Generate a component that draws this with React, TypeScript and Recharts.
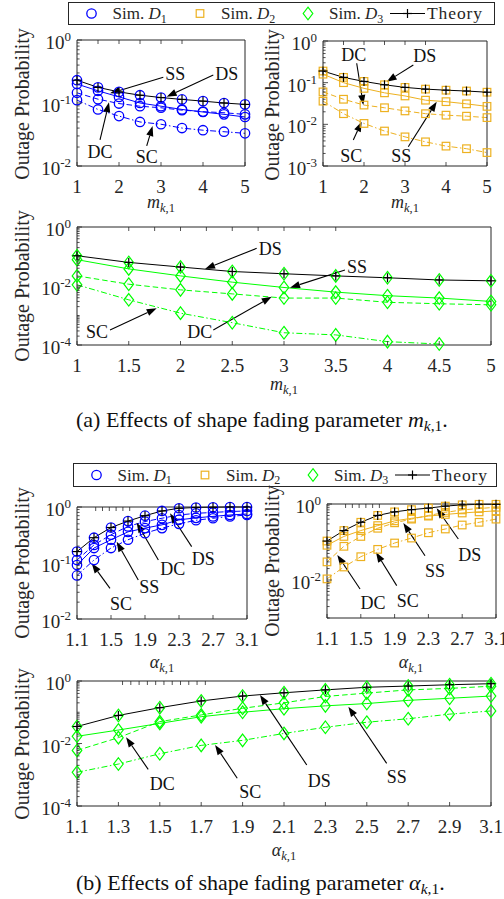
import React from "react";
import { LineChart, Line, XAxis, YAxis, ReferenceLine } from "recharts";

const SERIF = '"Liberation Serif", "Times New Roman", serif';
const INK = "#262626";
const BLUE = "#0000ff";
const ORANGE = "#edb120";
const GREEN = "#00ff00";

// ---------------------------------------------------------------------------
// Data
// ---------------------------------------------------------------------------

const mValues = [1, 1.5, 2, 2.5, 3, 3.5, 4, 4.5, 5];
const alphaValues = [1.1, 1.3, 1.5, 1.7, 1.9, 2.1, 2.3, 2.5, 2.7, 2.9, 3.1];

const mTicksNarrow = [1, 2, 3, 4, 5];
const mTicksWide = [1, 1.5, 2, 2.5, 3, 3.5, 4, 4.5, 5];
const alphaTicksNarrow = [1.1, 1.5, 1.9, 2.3, 2.7, 3.1];
const alphaTicksWide = [1.1, 1.3, 1.5, 1.7, 1.9, 2.1, 2.3, 2.5, 2.7, 2.9, 3.1];

// (a) D1 vs m
const mD1DS = [0.23, 0.177, 0.15, 0.133, 0.122, 0.114, 0.107, 0.1, 0.095];
const mD1SS = [0.2, 0.156, 0.125, 0.1, 0.089, 0.079, 0.072, 0.066, 0.06];
const mD1DC = [0.145, 0.115, 0.098, 0.089, 0.084, 0.077, 0.073, 0.07, 0.066];
const mD1SC = [0.111, 0.079, 0.062, 0.05, 0.046, 0.04, 0.037, 0.035, 0.033];

// (a) D2 vs m
const mD2DS = [0.19, 0.134, 0.107, 0.089, 0.077, 0.07, 0.066, 0.063, 0.059];
const mD2SS = [0.16, 0.1, 0.073, 0.057, 0.048, 0.038, 0.035, 0.031, 0.027];
const mD2DC = [0.06, 0.04, 0.029, 0.025, 0.021, 0.018, 0.0166, 0.0157, 0.0145];
const mD2SC = [0.036, 0.018, 0.0105, 0.0069, 0.005, 0.0038, 0.003, 0.0026, 0.0021];

// (a) D3 vs m
const mD3DS = [0.106, 0.063, 0.044, 0.031, 0.026, 0.022, 0.019, 0.016, 0.015];
const mD3SS = [0.078, 0.038, 0.022, 0.0135, 0.0089, 0.0062, 0.0047, 0.0039, 0.003];
const mD3DC = [0.022, 0.0115, 0.0074, 0.0054, 0.0039, 0.0039, 0.0028, 0.0025, 0.0023];
const mD3SC = [0.011, 0.0034, 0.0012, 0.00057, 0.00026, 0.00022, 0.00013, 0.000108, null];

// (b) D1 vs alpha
const aD1DS = [0.16, 0.283, 0.43, 0.56, 0.7, 0.85, 0.95, 0.98, 0.99, 1.0, 1.0];
const aD1SS = [0.092, 0.185, 0.26, 0.36, 0.42, 0.48, 0.59, 0.64, 0.68, 0.72, 0.75];
const aD1DC = [0.113, 0.21, 0.32, 0.45, 0.55, 0.63, 0.72, 0.77, 0.8, 0.83, 0.85];
const aD1SC = [0.06, 0.113, 0.185, 0.26, 0.34, 0.42, 0.5, 0.58, 0.63, 0.68, 0.72];

// (b) D2 vs alpha
const aD2DS = [0.106, 0.2, 0.33, 0.5, 0.62, 0.71, 0.78, 0.88, 0.95, 0.98, 0.98];
const aD2SS = [0.082, 0.14, 0.2, 0.27, 0.36, 0.42, 0.48, 0.53, 0.58, 0.62, 0.66];
const aD2DC = [0.03, 0.077, 0.14, 0.23, 0.32, 0.4, 0.5, 0.6, 0.7, 0.76, 0.82];
const aD2SC = [0.0107, 0.022, 0.041, 0.064, 0.094, 0.127, 0.175, 0.22, 0.28, 0.33, 0.4];

// (b) D3 vs alpha
const aD3DS = [0.035, 0.079, 0.14, 0.23, 0.33, 0.42, 0.52, 0.63, 0.69, 0.76, 0.82];
const aD3SS = [0.017, 0.027, 0.044, 0.072, 0.1, 0.13, 0.16, 0.19, 0.24, 0.28, 0.33];
const aD3DC = [0.006, 0.0154, 0.05, 0.082, 0.134, 0.2, 0.32, 0.41, 0.52, 0.58, 0.68];
const aD3SC = [0.0012, 0.0022, 0.0047, 0.0087, 0.0126, 0.021, 0.033, 0.048, 0.062, 0.087, 0.11];

// ---------------------------------------------------------------------------
// Types / helpers
// ---------------------------------------------------------------------------

type Val = number | null;
type Row = { x: number; ds: Val; ss: Val; dc: Val; sc: Val };
type MarkerKind = "circle" | "square" | "diamond";

interface Note {
  label: string;
  tail: [number, number];
  head: [number, number];
  anchor: "start" | "middle" | "end";
  dx: number;
  dy: number;
}

const toRows = (xs: number[], ds: Val[], ss: Val[], dc: Val[], sc: Val[]): Row[] =>
  xs.map((x, i) => ({ x, ds: ds[i], ss: ss[i], dc: dc[i], sc: sc[i] }));

function logTicks(lo: number, hi: number) {
  const out: number[] = [];
  for (let e = lo; e < hi; e++) for (let k = 1; k < 10; k++) out.push(k * Math.pow(10, e));
  out.push(Math.pow(10, hi));
  return out;
}

function drawMarker(kind: MarkerKind, color: string, cx: number, cy: number) {
  if (kind === "circle")
    return <circle cx={cx} cy={cy} r={4.7} fill="none" stroke={color} strokeWidth={1.3} />;
  if (kind === "square")
    return <rect x={cx - 3.8} y={cy - 3.8} width={7.6} height={7.6} fill="none" stroke={color} strokeWidth={1.2} />;
  return (
    <polygon
      points={`${cx},${cy - 6.3} ${cx + 4.8},${cy} ${cx},${cy + 6.3} ${cx - 4.8},${cy}`}
      fill="none"
      stroke={color}
      strokeWidth={1.2}
    />
  );
}

const plusMark = (cx: number, cy: number) => (
  <g stroke="#000" strokeWidth={1.2}>
    <line x1={cx - 4.5} x2={cx + 4.5} y1={cy} y2={cy} />
    <line x1={cx} x2={cx} y1={cy - 4.5} y2={cy + 4.5} />
  </g>
);

const markerDot = (kind: MarkerKind, color: string, withPlus: boolean) => (p: any) => {
  const { cx, cy, index } = p;
  if (cx == null || cy == null || p.value == null) return <g key={`n${index}`} />;
  return (
    <g key={`m${index}`}>
      {drawMarker(kind, color, cx, cy)}
      {withPlus && plusMark(cx, cy)}
    </g>
  );
};

const isPow10 = (v: number) => Math.abs(Math.log10(v) - Math.round(Math.log10(v))) < 1e-9;

const yTick = (side: "left" | "right", labelExps: number[]) => (p: any) => {
  const v = p.payload.value as number;
  const exp = Math.round(Math.log10(v));
  const major = isPow10(v) && labelExps.includes(exp);
  const len = major ? 5 : 2.6;
  const dir = side === "left" ? 1 : -1;
  return (
    <g>
      <line x1={p.x} x2={p.x + dir * len} y1={p.y} y2={p.y} stroke={INK} strokeWidth={0.8} />
      {major && side === "left" && (
        <text x={p.x - 6} y={p.y + 9} textAnchor="end" fontFamily={SERIF} fontSize={19} fill={INK}>
          10
          <tspan dy={-8} fontSize={13}>
            {String(exp)}
          </tspan>
        </text>
      )}
    </g>
  );
};

const xTick = (side: "top" | "bottom") => (p: any) => {
  const dir = side === "bottom" ? -1 : 1;
  return (
    <g>
      <line x1={p.x} x2={p.x} y1={p.y} y2={p.y + dir * 4} stroke={INK} strokeWidth={0.8} />
      {side === "bottom" && (
        <text x={p.x} y={p.y + 27} textAnchor="middle" fontFamily={SERIF} fontSize={19} fill={INK}>
          {p.payload.value}
        </text>
      )}
    </g>
  );
};

const arrowShape = (n: Note) => (p: any) => {
  const { x1, y1, x2, y2 } = p;
  if (x1 == null || x2 == null) return <g />;
  const a = Math.atan2(y2 - y1, x2 - x1);
  const L = 10;
  const W = 3.6;
  const bx = x2 - L * Math.cos(a);
  const by = y2 - L * Math.sin(a);
  return (
    <g>
      <line x1={x1} y1={y1} x2={bx} y2={by} stroke="#000" strokeWidth={1.1} />
      <polygon
        points={`${x2},${y2} ${bx - W * Math.sin(a)},${by + W * Math.cos(a)} ${bx + W * Math.sin(a)},${by - W * Math.cos(a)}`}
        fill="#000"
      />
      <text x={x1 + n.dx} y={y1 + n.dy} textAnchor={n.anchor} fontFamily={SERIF} fontSize={18} fill="#111">
        {n.label}
      </text>
    </g>
  );
};

// ---------------------------------------------------------------------------
// Panel
// ---------------------------------------------------------------------------

interface PanelProps {
  frame: [number, number, number, number];
  plot: [number, number, number, number];
  rows: Row[];
  color: string;
  marker: MarkerKind;
  xDomain: [number, number];
  xTicks: number[];
  yExp: [number, number];
  yLabelExps: number[];
  notes: Note[];
}

function Panel({ frame, plot, rows, color, marker, xDomain, xTicks, yExp, yLabelExps, notes }: PanelProps) {
  const [fx, fy, fw, fh] = frame;
  const [px0, py0, px1, py1] = plot;
  const yDomain: [number, number] = [Math.pow(10, yExp[0]), Math.pow(10, yExp[1])];
  const yTicks = logTicks(yExp[0], yExp[1]);
  const xAxisH = 30;
  const common = { isAnimationActive: false, activeDot: false as const, strokeWidth: 1, type: "linear" as const };

  return (
    <div style={{ position: "absolute", left: fx, top: fy }}>
      <LineChart
        width={fw}
        height={fh}
        data={rows}
        margin={{ top: py0 - fy - 1, right: fx + fw - px1 - 1, bottom: fy + fh - py1 - xAxisH, left: 0 }}
      >
        <XAxis
          dataKey="x"
          type="number"
          domain={xDomain}
          ticks={xTicks}
          interval={0}
          height={xAxisH}
          tickSize={0}
          tickMargin={0}
          tickLine={false}
          axisLine={{ stroke: INK }}
          tick={xTick("bottom")}
        />
        <XAxis
          xAxisId="top"
          orientation="top"
          type="number"
          domain={xDomain}
          ticks={xTicks}
          interval={0}
          height={1}
          tickSize={0}
          tickMargin={0}
          tickLine={false}
          axisLine={{ stroke: INK }}
          tick={xTick("top")}
        />
        <YAxis
          type="number"
          scale="log"
          domain={yDomain}
          ticks={yTicks}
          interval={0}
          width={px0 - fx}
          tickSize={0}
          tickMargin={0}
          tickLine={false}
          axisLine={{ stroke: INK }}
          tick={yTick("left", yLabelExps)}
        />
        <YAxis
          yAxisId="right"
          orientation="right"
          type="number"
          scale="log"
          domain={yDomain}
          ticks={yTicks}
          interval={0}
          width={1}
          tickSize={0}
          tickMargin={0}
          tickLine={false}
          axisLine={{ stroke: INK }}
          tick={yTick("right", yLabelExps)}
        />
        <Line {...common} dataKey="sc" stroke={color} strokeDasharray="6 2.5 1.5 2.5" dot={markerDot(marker, color, false)} />
        <Line {...common} dataKey="dc" stroke={color} strokeDasharray="5.5 3" dot={markerDot(marker, color, false)} />
        <Line {...common} dataKey="ss" stroke={color} dot={markerDot(marker, color, false)} />
        <Line {...common} dataKey="ds" stroke="#000" dot={markerDot(marker, color, true)} />
        {notes.map((n) => (
          <ReferenceLine
            key={n.label}
            segment={[
              { x: n.tail[0], y: n.tail[1] },
              { x: n.head[0], y: n.head[1] },
            ]}
            ifOverflow="visible"
            shape={arrowShape(n)}
          />
        ))}
      </LineChart>
    </div>
  );
}

// ---------------------------------------------------------------------------
// Legend and text
// ---------------------------------------------------------------------------

const legendSims = [
  { sub: "1", color: BLUE, marker: "circle" as MarkerKind, cx: 23.5 },
  { sub: "2", color: ORANGE, marker: "square" as MarkerKind, cx: 132 },
  { sub: "3", color: GREEN, marker: "diamond" as MarkerKind, cx: 240 },
];

function LegendBox({ x, y, w, h }: { x: number; y: number; w: number; h: number }) {
  const cy = h / 2;
  const base = cy + 5.5;
  return (
    <svg style={{ position: "absolute", left: x, top: y }} width={w} height={h}>
      <rect x={0.5} y={0.5} width={w - 1} height={h - 1} fill="#fff" stroke={INK} strokeWidth={1} />
      {legendSims.map((s) => (
        <g key={s.sub}>
          {drawMarker(s.marker, s.color, s.cx, cy)}
          <text x={s.cx + 21} y={base} fontFamily={SERIF} fontSize={17} fill={INK}>
            {"Sim. "}
            <tspan fontStyle="italic">D</tspan>
            <tspan fontSize={12} dy={3.5}>
              {s.sub}
            </tspan>
          </text>
        </g>
      ))}
      <line x1={322} x2={357} y1={cy} y2={cy} stroke="#000" strokeWidth={1} />
      {plusMark(339.5, cy)}
      <text x={359} y={base} fontFamily={SERIF} fontSize={17.5} fill={INK} letterSpacing={0.9}>
        Theory
      </text>
    </svg>
  );
}

const yTitles = [
  [29, 104],
  [279, 105],
  [29, 286],
  [29, 563],
  [279, 561],
  [29, 744],
];

const xTitles: { x: number; y: number; sym: string }[] = [
  { x: 161, y: 208, sym: "m" },
  { x: 405, y: 208, sym: "m" },
  { x: 284, y: 390, sym: "m" },
  { x: 162, y: 668, sym: "α" },
  { x: 411, y: 668, sym: "α" },
  { x: 284, y: 856, sym: "α" },
];

const Param = ({ sym, size, sub }: { sym: string; size: number; sub: number }) => (
  <>
    <tspan fontStyle="italic">{sym}</tspan>
    <tspan fontSize={sub} dy={size * 0.2} fontStyle="italic">
      k
    </tspan>
    <tspan fontSize={sub}>,1</tspan>
  </>
);

function Overlay() {
  return (
    <svg style={{ position: "absolute", left: 0, top: 0, pointerEvents: "none" }} width={504} height={899}>
      {yTitles.map(([x, y], i) => (
        <text
          key={i}
          x={x}
          y={y}
          transform={`rotate(-90 ${x} ${y})`}
          textAnchor="middle"
          fontFamily={SERIF}
          fontSize={20}
          fill={INK}
        >
          Outage Probability
        </text>
      ))}
      {xTitles.map((t, i) => (
        <text key={i} x={t.x} y={t.y} textAnchor="middle" fontFamily={SERIF} fontSize={18} fill={INK}>
          <Param sym={t.sym} size={18} sub={12.5} />
        </text>
      ))}
      <text x={76} y={427} fontFamily={SERIF} fontSize={22} fill="#111">
        {"(a) Effects of shape fading parameter "}
        <Param sym="m" size={22} sub={15.5} />
        <tspan dy={-22 * 0.2}>.</tspan>
      </text>
      <text x={76} y={890} fontFamily={SERIF} fontSize={22} fill="#111">
        {"(b) Effects of shape fading parameter "}
        <Param sym="α" size={22} sub={15.5} />
        <tspan dy={-22 * 0.2}>.</tspan>
      </text>
    </svg>
  );
}

// ---------------------------------------------------------------------------
// Annotations (data coordinates of arrow tail and head)
// ---------------------------------------------------------------------------

const notesM1: Note[] = [
  { label: "SS", tail: [3.055, 0.256], head: [1.786, 0.1426], anchor: "start", dx: 2, dy: 3 },
  { label: "DS", tail: [4.245, 0.278], head: [3.135, 0.126], anchor: "start", dx: 2, dy: 5 },
  { label: "DC", tail: [1.548, 0.0259], head: [1.762, 0.1026], anchor: "middle", dx: 0, dy: 18 },
  { label: "SC", tail: [2.66, 0.0208], head: [2.8, 0.0431], anchor: "middle", dx: 0, dy: 17 },
];
const notesM2: Note[] = [
  { label: "DC", tail: [1.822, 0.292], head: [1.983, 0.0291], anchor: "middle", dx: -3, dy: -2 },
  { label: "DS", tail: [3.203, 0.265], head: [2.553, 0.1056], anchor: "start", dx: 0, dy: -3 },
  { label: "SC", tail: [1.739, 0.0042], head: [1.943, 0.0116], anchor: "middle", dx: -2, dy: 22 },
  { label: "SS", tail: [3.08, 0.0029], head: [3.773, 0.035], anchor: "middle", dx: -7, dy: 15 },
];
const notesM3: Note[] = [
  { label: "DS", tail: [2.736, 0.19], head: [2.237, 0.0377], anchor: "start", dx: 2, dy: 7 },
  { label: "SS", tail: [3.589, 0.0349], head: [3.058, 0.00877], anchor: "start", dx: 2, dy: 3 },
  { label: "SC", tail: [1.319, 0.000323], head: [1.77, 0.00175], anchor: "end", dx: -2, dy: 8 },
  { label: "DC", tail: [2.317, 0.000323], head: [2.881, 0.00434], anchor: "end", dx: -1, dy: 8 },
];
const notesA1: Note[] = [
  { label: "SC", tail: [1.488, 0.0353], head: [1.273, 0.0987], anchor: "middle", dx: 11, dy: 22 },
  { label: "SS", tail: [1.821, 0.0497], head: [1.567, 0.24], anchor: "middle", dx: 11, dy: 13 },
  { label: "DC", tail: [2.057, 0.113], head: [1.802, 0.525], anchor: "start", dx: 2, dy: 15 },
  { label: "DS", tail: [2.449, 0.196], head: [2.194, 0.771], anchor: "start", dx: 0, dy: 18 },
];
const notesA2: Note[] = [
  { label: "DC", tail: [1.491, 0.0058], head: [1.222, 0.0455], anchor: "middle", dx: 13, dy: 20 },
  { label: "SC", tail: [1.925, 0.0071], head: [1.68, 0.0536], anchor: "middle", dx: 11, dy: 21 },
  { label: "SS", tail: [2.26, 0.0436], head: [2.003, 0.316], anchor: "start", dx: 0, dy: 21 },
  { label: "DS", tail: [2.654, 0.12], head: [2.398, 0.77], anchor: "start", dx: 0, dy: 22 },
];
const notesA3: Note[] = [
  { label: "DC", tail: [1.444, 0.00149], head: [1.337, 0.0158], anchor: "middle", dx: 14, dy: 21 },
  { label: "SC", tail: [1.874, 0.00077], head: [1.767, 0.00895], anchor: "middle", dx: 13, dy: 20 },
  { label: "DS", tail: [2.21, 0.00205], head: [1.984, 0.356], anchor: "start", dx: 1, dy: 22 },
  { label: "SS", tail: [2.596, 0.00232], head: [2.411, 0.151], anchor: "start", dx: 0, dy: 20 },
];

// ---------------------------------------------------------------------------
// App
// ---------------------------------------------------------------------------

export default function App() {
  return (
    <div
      style={{
        position: "absolute",
        left: 0,
        top: 0,
        width: 504,
        height: 899,
        background: "#fff",
        overflow: "hidden",
      }}
    >
      <LegendBox x={68} y={2} w={427} h={23} />
      <Panel
        frame={[0, 27, 262, 178]}
        plot={[77, 40, 245, 166]}
        rows={toRows(mValues, mD1DS, mD1SS, mD1DC, mD1SC)}
        color={BLUE}
        marker="circle"
        xDomain={[1, 5]}
        xTicks={mTicksNarrow}
        yExp={[-2, 0]}
        yLabelExps={[-2, -1, 0]}
        notes={notesM1}
      />
      <Panel
        frame={[250, 27, 254, 178]}
        plot={[323, 41, 487, 166]}
        rows={toRows(mValues, mD2DS, mD2SS, mD2DC, mD2SC)}
        color={ORANGE}
        marker="square"
        xDomain={[1, 5]}
        xTicks={mTicksNarrow}
        yExp={[-3, 0]}
        yLabelExps={[-3, -2, -1, 0]}
        notes={notesM2}
      />
      <Panel
        frame={[0, 212, 504, 168]}
        plot={[77, 227, 491, 345]}
        rows={toRows(mValues, mD3DS, mD3SS, mD3DC, mD3SC)}
        color={GREEN}
        marker="diamond"
        xDomain={[1, 5]}
        xTicks={mTicksWide}
        yExp={[-4, 0]}
        yLabelExps={[-4, -2, 0]}
        notes={notesM3}
      />
      <LegendBox x={73} y={463} w={424} h={24} />
      <Panel
        frame={[0, 490, 265, 165]}
        plot={[77, 507, 247, 619]}
        rows={toRows(alphaValues, aD1DS, aD1SS, aD1DC, aD1SC)}
        color={BLUE}
        marker="circle"
        xDomain={[1.1, 3.1]}
        xTicks={alphaTicksNarrow}
        yExp={[-2, 0]}
        yLabelExps={[-2, -1, 0]}
        notes={notesA1}
      />
      <Panel
        frame={[250, 490, 254, 165]}
        plot={[327, 504, 496, 618]}
        rows={toRows(alphaValues, aD2DS, aD2SS, aD2DC, aD2SC)}
        color={ORANGE}
        marker="square"
        xDomain={[1.1, 3.1]}
        xTicks={alphaTicksNarrow}
        yExp={[-3, 0]}
        yLabelExps={[-2, 0]}
        notes={notesA2}
      />
      <Panel
        frame={[0, 668, 504, 172]}
        plot={[77, 681, 491, 806]}
        rows={toRows(alphaValues, aD3DS, aD3SS, aD3DC, aD3SC)}
        color={GREEN}
        marker="diamond"
        xDomain={[1.1, 3.1]}
        xTicks={alphaTicksWide}
        yExp={[-4, 0]}
        yLabelExps={[-4, -2, 0]}
        notes={notesA3}
      />
      <Overlay />
    </div>
  );
}
